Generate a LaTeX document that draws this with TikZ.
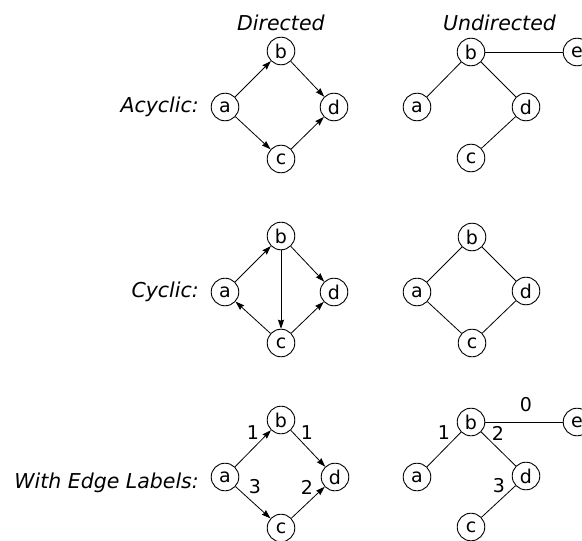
\documentclass[tikz,border=0pt]{standalone}
\usepackage{fontspec}
\setmainfont{DejaVu Sans}
\usetikzlibrary{arrows.meta}
\tikzset{
  vtx/.style={circle,draw,line width=0.9pt,minimum size=27.6pt,inner sep=0pt,font=\fontsize{19}{19}\selectfont},
  arr/.style={line width=0.8pt,-{Stealth[length=9pt,width=6pt,inset=1pt]}},
  ln/.style={line width=0.8pt},
  ttl/.style={font=\fontsize{20.5}{20.5}\selectfont\itshape,inner sep=0pt},
  lbl/.style={font=\fontsize{19}{19}\selectfont,inner sep=0pt}
}
\begin{document}
\begin{tikzpicture}[x=1pt,y=-1pt]
\useasboundingbox (0,0) rectangle (582,541);
% headers
\node[ttl,anchor=base west] (hd) at (237,30) {Directed};
\node[ttl,anchor=base west] (hu) at (443,30) {Undirected};
\node[ttl,anchor=base east] (l1) at (199,112) {Acyclic:};
\node[ttl,anchor=base east] (l2) at (199,297) {Cyclic:};
\node[ttl,anchor=base east] (l3) at (199,488) {With Edge Labels:};
% Row 1 directed
\node[vtx] (a1) at (225,107) {a};
\node[vtx] (b1) at (281,51) {b};
\node[vtx] (c1) at (281,159) {c};
\node[vtx] (d1) at (334,107) {d};
\draw[arr] (a1) -- (b1);
\draw[arr] (a1) -- (c1);
\draw[arr] (b1) -- (d1);
\draw[arr] (c1) -- (d1);
% Row 1 undirected
\node[vtx] (ua1) at (417,107) {a};
\node[vtx] (ub1) at (471,52) {b};
\node[vtx] (uc1) at (471,158) {c};
\node[vtx] (ud1) at (526,107) {d};
\node[vtx] (ue1) at (577,52) {e};
\draw[ln] (ua1) -- (ub1);
\draw[ln] (ub1) -- (ud1);
\draw[ln] (ud1) -- (uc1);
\draw[ln] (ub1) -- (ue1);
% Row 2 directed
\node[vtx] (a2) at (225,292) {a};
\node[vtx] (b2) at (281,236) {b};
\node[vtx] (c2) at (281,343) {c};
\node[vtx] (d2) at (334,292) {d};
\draw[arr] (a2) -- (b2);
\draw[arr] (b2) -- (d2);
\draw[arr] (b2) -- (c2);
\draw[arr] (c2) -- (a2);
\draw[arr] (c2) -- (d2);
% Row 2 undirected
\node[vtx] (ua2) at (417,292) {a};
\node[vtx] (ub2) at (472,237) {b};
\node[vtx] (uc2) at (472,343) {c};
\node[vtx] (ud2) at (526,291) {d};
\draw[ln] (ua2) -- (ub2);
\draw[ln] (ub2) -- (ud2);
\draw[ln] (ud2) -- (uc2);
\draw[ln] (uc2) -- (ua2);
% Row 3 directed
\node[vtx] (a3) at (225,477) {a};
\node[vtx] (b3) at (281,420) {b};
\node[vtx] (c3) at (281,528) {c};
\node[vtx] (d3) at (335,477) {d};
\draw[arr] (a3) -- (b3);
\draw[arr] (a3) -- (c3);
\draw[arr] (b3) -- (d3);
\draw[arr] (c3) -- (d3);
\node[lbl] (w1) at (253,433) {1};
\node[lbl] (w2) at (307,433) {1};
\node[lbl] (w3) at (255,487) {3};
\node[lbl] (w4) at (307,487) {2};
% Row 3 undirected
\node[vtx] (ua3) at (417,477) {a};
\node[vtx] (ub3) at (471,422) {b};
\node[vtx] (uc3) at (471,527) {c};
\node[vtx] (ud3) at (526,476) {d};
\node[vtx] (ue3) at (577,422) {e};
\draw[ln] (ua3) -- (ub3);
\draw[ln] (ub3) -- (ud3);
\draw[ln] (ud3) -- (uc3);
\draw[ln] (ub3) -- (ue3);
\node[lbl] (v0) at (526,405) {0};
\node[lbl] (v1) at (444,433) {1};
\node[lbl] (v2) at (498,433) {2};
\node[lbl] (v3) at (499,486) {3};
\end{tikzpicture}
\end{document}
